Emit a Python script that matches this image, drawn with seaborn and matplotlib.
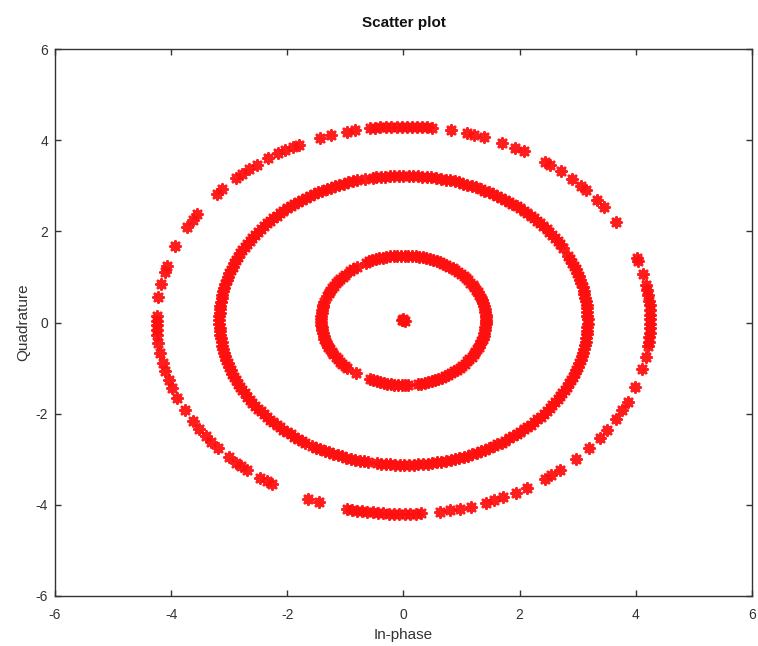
import numpy as np
import pandas as pd
import matplotlib
matplotlib.use("Agg")
import matplotlib.pyplot as plt
import seaborn as sns

# Received constellation: three amplitude rings plus the zero symbol.
# Each ring is given by its radius and the phase (degrees) of every received sample.
ring_center = (0.0, 0.05)

outer_radius = 4.25
outer_phase = [
    352.3, 353.6, 355.0, 356.3, 357.7, 359.0, 0.3, 1.5, 2.9, 4.4, 5.8, 7.4, 8.9, 10.4,
    13.8, 17.8, 18.7, 30.4, 35.8, 38.5, 42.2, 44.0, 46.9, 50.2, 53.5, 54.9, 60.9, 63.1,
    66.6, 71.0, 73.5, 75.1, 78.9,
    83.3, 84.5, 85.7, 86.8, 88.0, 89.2, 90.4, 91.6, 92.9, 94.1, 95.4, 96.7, 97.9,
    101.3, 103.3, 107.0, 109.7, 115.0, 116.7, 118.7, 120.5, 123.3, 126.5, 128.7, 130.8,
    132.7, 137.2, 139.2, 146.6, 148.7, 151.1, 157.5, 163.6, 165.5, 169.1, 173.2,
    178.8, 180.2, 181.5, 183.0, 184.3, 186.8, 189.8, 192.8, 195.3, 198.1, 200.6, 203.7,
    207.6, 211.4, 214.0, 216.8, 218.8, 221.2, 224.9, 227.4, 228.7, 230.7, 234.4, 236.3,
    237.8, 247.2, 250.1,
    256.7, 257.9, 259.2, 260.4, 261.6, 262.9, 264.1, 265.3, 266.6, 267.8, 269.0, 270.3,
    271.5, 272.8, 274.0,
    278.6, 280.9, 283.2, 285.8, 289.5, 291.5, 293.8, 297.1, 300.1, 305.0, 306.8, 309.4,
    314.3, 318.9, 322.6, 325.4, 329.4, 332.3, 335.2, 339.9, 345.5, 349.2,
]

middle_radius = 3.17
middle_phase = [
    0.4, 1.8, 3.1, 4.7, 6.0, 7.6, 8.9, 10.5, 11.8, 13.3, 14.9, 16.2, 17.8, 19.1, 20.6,
    22.2, 23.5, 25.0, 26.6,
    30.2, 31.7, 33.1, 34.8, 36.0, 37.6, 39.0, 40.5, 42.1, 43.4, 45.0, 46.3, 47.9, 49.2,
    50.8, 52.1, 53.7, 55.0, 56.6, 58.0, 59.4, 61.0, 62.3, 63.9, 65.2, 66.8, 68.1, 69.7,
    71.0, 72.6, 73.9, 75.5, 76.8, 78.4, 79.7, 81.3, 82.6, 84.2, 85.5, 87.1, 88.4, 90.0,
    91.3, 92.9, 94.2, 95.8, 97.1, 98.6, 99.6,
    102.1,
    104.6, 106.0, 107.5, 108.9, 110.4, 111.8, 113.3, 114.7, 116.2, 117.6, 119.1, 120.5,
    122.0, 123.4, 124.9, 126.3, 127.8, 129.2, 130.7, 132.1, 133.6, 135.0, 136.5, 137.9,
    139.4, 140.8, 142.3, 143.7, 145.2, 146.6, 148.1, 149.5, 151.0, 152.4, 153.9, 155.3,
    156.8, 158.2, 159.7, 161.1, 162.6, 164.0, 165.5, 166.9, 168.4, 169.8, 171.3, 172.7,
    174.2, 175.6, 177.1, 178.5, 180.0, 181.4, 182.9, 184.3, 185.8, 187.2, 188.7, 190.1,
    191.6, 193.0, 194.5, 195.9, 197.4, 198.8, 200.3, 201.7, 203.2, 204.6, 206.1, 207.5,
    209.0, 210.4, 211.9, 213.3, 214.8, 216.2, 217.7, 219.1, 220.6, 222.0, 223.5, 224.9,
    226.4, 227.8, 229.3, 230.7, 232.2, 233.6, 235.1, 236.5, 237.8,
    240.3, 241.8, 243.2, 244.7, 246.1, 247.6, 249.0, 250.5, 251.9, 253.4, 254.8, 256.3,
    257.7, 258.9,
    261.6, 263.0, 264.5, 265.9, 267.4, 268.8, 270.3, 271.7, 273.2, 274.6, 276.1, 277.5,
    279.0, 280.4, 281.9, 283.3, 284.8, 286.2, 287.7, 289.1, 290.6, 292.0, 293.5, 294.9,
    296.4, 297.8, 299.3, 300.7, 302.2, 303.6, 305.1, 306.5, 308.0, 309.4, 310.9, 312.3,
    313.8, 315.2, 316.7, 318.1, 319.6, 321.0, 322.5, 323.9, 325.4, 326.8, 328.3, 329.7,
    331.2, 332.6, 334.1, 335.5, 337.0, 338.4, 339.9, 341.3, 342.8, 344.2, 345.7, 347.1,
    348.6, 350.0, 351.5, 352.9, 354.4, 355.8, 357.3, 358.7,
]

inner_radius = 1.42
inner_phase = [
    0.0, 2.5, 5.1, 7.6, 10.2, 12.7, 15.3, 17.8, 20.4, 22.9, 25.5, 28.0, 30.6, 33.1, 35.7,
    38.2, 40.8, 43.3, 45.9, 48.4, 51.0, 53.5, 56.1, 58.6, 61.2, 63.7, 66.3, 68.8, 71.4,
    73.9, 76.5, 79.0, 81.6, 84.1, 86.7, 89.2, 91.8, 94.3, 96.9, 99.4, 102.0, 104.5, 107.1,
    109.6, 112.2, 114.7, 117.3,
    124.5, 127.4, 130.6,
    135.0, 137.5, 140.1, 142.6, 145.2, 147.7, 150.3, 152.8, 155.4, 157.9,
    163.5, 166.0, 168.6, 171.1, 173.7, 176.2, 178.8, 181.3, 183.9, 186.4, 189.0, 191.5,
    194.1, 196.6, 199.2, 201.7, 204.3, 206.8, 209.4, 211.9, 214.5, 217.0, 219.6, 222.1,
    224.7, 227.0,
    234.8,
    245.9, 248.4, 251.0, 253.5, 256.1, 258.6, 261.2, 263.7, 266.3, 268.8, 271.4, 273.2,
    279.8, 282.3, 284.9, 287.4, 290.0, 292.5, 295.1, 297.6, 300.2, 302.7, 305.3, 307.8,
    310.4, 312.9, 315.5, 318.0, 320.6, 323.1, 325.7, 328.2, 330.8, 333.3, 335.9, 338.4,
    341.0, 343.5, 346.1, 348.6, 351.2, 353.7, 356.3, 358.8,
]

# Samples of the zero-amplitude symbol
zero_i = [0.0, -0.02, 0.02, 0.0]
zero_q = [0.05, 0.06, 0.04, 0.08]


def ring_points(radius, phase_deg):
    ph = np.deg2rad(np.asarray(phase_deg))
    return (ring_center[0] + radius * np.cos(ph),
            ring_center[1] + radius * np.sin(ph))


parts_i, parts_q = [np.asarray(zero_i)], [np.asarray(zero_q)]
for r, ph in [(inner_radius, inner_phase), (middle_radius, middle_phase),
              (outer_radius, outer_phase)]:
    i_vals, q_vals = ring_points(r, ph)
    parts_i.append(i_vals)
    parts_q.append(q_vals)

df = pd.DataFrame({"In-phase": np.concatenate(parts_i),
                   "Quadrature": np.concatenate(parts_q)})

sns.set_style("ticks")
plt.rcParams["font.family"] = ["Liberation Sans", "DejaVu Sans"]
plt.rcParams["axes.unicode_minus"] = False

fig = plt.figure(figsize=(7.58, 6.46), dpi=100)
ax = fig.add_axes([0.0726, 0.0774, 0.9194, 0.8466])

sns.scatterplot(data=df, x="In-phase", y="Quadrature", ax=ax,
                marker=(8, 2, 0), color="#ff1010", s=52, linewidth=2.0,
                edgecolor=None, alpha=0.95, legend=False)

ax.set_xlim(-6, 6)
ax.set_ylim(-6, 6)
ax.set_xticks([-6, -4, -2, 0, 2, 4, 6])
ax.set_yticks([-6, -4, -2, 0, 2, 4, 6])

for side in ["top", "right", "bottom", "left"]:
    ax.spines[side].set_visible(True)
    ax.spines[side].set_color("#333333")
    ax.spines[side].set_linewidth(1.0)

ax.tick_params(axis="both", which="both", direction="in", top=True, right=True,
               length=4, width=1.0, color="#333333", labelsize=10,
               labelcolor="#333333")
ax.tick_params(axis="x", pad=9)
ax.tick_params(axis="y", pad=5)

ax.set_xlabel("In-phase", fontsize=11, color="#333333", labelpad=4)
ax.set_ylabel("Quadrature", fontsize=11, color="#333333", labelpad=4)
ax.set_title("Scatter plot", fontsize=11, fontweight="bold", color="#111111", pad=16)

fig.savefig("out.png", dpi=100)
